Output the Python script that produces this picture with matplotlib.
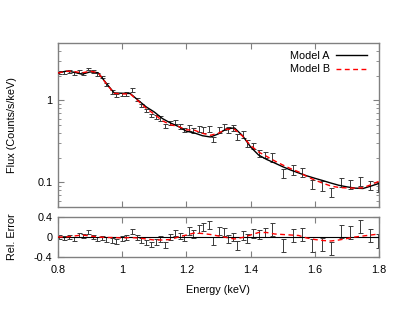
import numpy as np
import matplotlib
matplotlib.use("Agg")
import matplotlib.pyplot as plt
from matplotlib.ticker import FixedLocator, NullFormatter, LogLocator

plt.rcParams['font.family'] = ['Liberation Sans', 'DejaVu Sans']

# Model grid
model_E = [0.800, 0.825, 0.850, 0.875, 0.900, 0.925, 0.950, 0.975, 1.000, 1.025,
           1.050, 1.075, 1.100, 1.125, 1.150, 1.175, 1.200, 1.225, 1.250, 1.275,
           1.300, 1.325, 1.350, 1.375, 1.400, 1.425, 1.450, 1.475, 1.500, 1.525,
           1.550, 1.575, 1.600, 1.625, 1.650, 1.675, 1.700, 1.725, 1.750, 1.775, 1.800]
model_A = [2.15, 2.27, 2.20, 2.08, 2.22, 2.17, 1.62, 1.23, 1.22, 1.21,
           1.00, 0.83, 0.72, 0.60, 0.53, 0.48, 0.42, 0.40, 0.37, 0.357,
           0.39, 0.45, 0.46, 0.37, 0.27, 0.215, 0.19, 0.172, 0.155, 0.141,
           0.130, 0.120, 0.112, 0.105, 0.098, 0.092, 0.088, 0.085, 0.084, 0.090, 0.097]
# Model B relative to model A (B/A - 1)
model_B_rel = [0.0, 0.0, 0.02, 0.04, 0.02, 0.0, -0.01, -0.01, -0.02, -0.01,
               -0.02, -0.04, -0.06, -0.06, -0.05, 0.0, 0.04, 0.08, 0.07, 0.05,
               0.02, -0.01, -0.04, -0.01, 0.04, 0.09, 0.09, 0.06, 0.05, 0.04,
               0.03, -0.02, -0.05, -0.07, -0.08, -0.06, -0.03, 0.0, 0.02, 0.04, 0.06]

# Data points
data_E = [0.803, 0.819, 0.834, 0.850, 0.865, 0.879, 0.895, 0.909, 0.923, 0.937,
          0.951, 0.967, 0.981, 0.998, 1.013, 1.029, 1.045, 1.059, 1.074, 1.090,
          1.104, 1.118, 1.133, 1.149, 1.164, 1.179, 1.193, 1.209, 1.222, 1.238,
          1.253, 1.269, 1.284, 1.300, 1.316, 1.331, 1.345, 1.359, 1.375, 1.390,
          1.406, 1.425, 1.445, 1.467, 1.501, 1.531, 1.560, 1.590, 1.621, 1.650,
          1.683, 1.711, 1.741, 1.772, 1.797]
data_flux = [2.16, 2.20, 2.25, 2.13, 2.24, 2.15, 2.41, 2.23, 2.09, 1.93,
             1.56, 1.27, 1.14, 1.18, 1.20, 1.33, 1.03, 0.87, 0.75, 0.65,
             0.63, 0.60, 0.49, 0.53, 0.54, 0.48, 0.435, 0.465, 0.43, 0.45,
             0.44, 0.45, 0.335, 0.44, 0.47, 0.44, 0.46, 0.36, 0.385, 0.30,
             0.28, 0.226, 0.215, 0.204, 0.130, 0.142, 0.132, 0.095, 0.091, 0.076,
             0.101, 0.095, 0.103, 0.092, 0.089]
data_resid = [0.0, -0.02, 0.0, -0.03, 0.05, 0.03, 0.10, 0.0, -0.04, -0.01,
              -0.04, -0.07, -0.08, -0.03, -0.01, 0.12, -0.01, -0.06, -0.10, -0.15,
              -0.10, -0.04, -0.15, 0.0, 0.08, 0.03, -0.01, 0.12, 0.07, 0.17,
              0.20, 0.25, -0.08, 0.12, 0.10, -0.03, 0.0, -0.16, 0.04, -0.03,
              0.07, 0.05, 0.10, 0.15, -0.16, 0.03, 0.05, -0.17, -0.14, -0.22,
              0.11, 0.10, 0.22, 0.03, -0.08]
data_relerr = [0.04, 0.04, 0.04, 0.04, 0.04, 0.04, 0.04, 0.04, 0.04, 0.04,
               0.05, 0.05, 0.05, 0.05, 0.05, 0.05, 0.05, 0.05, 0.05, 0.05,
               0.06, 0.06, 0.06, 0.06, 0.06, 0.06, 0.06, 0.08, 0.08, 0.08,
               0.08, 0.08, 0.08, 0.08, 0.08, 0.08, 0.08, 0.09, 0.09, 0.09,
               0.09, 0.09, 0.09, 0.13, 0.13, 0.13, 0.13, 0.13, 0.13, 0.13,
               0.13, 0.13, 0.13, 0.13, 0.14]

x_ticks = [0.8, 1.0, 1.2, 1.4, 1.6, 1.8]
x_ticklabels = ['0.8', '1', '1.2', '1.4', '1.6', '1.8']

mE = np.array(model_E)
mA = np.array(model_A)
mB = mA * (1 + np.array(model_B_rel))
dE = np.array(data_E)
dF = np.array(data_flux)
dR = np.array(data_resid)
dErr = np.array(data_relerr)

W, H = 394, 315
fig = plt.figure(figsize=(W / 100, H / 100), dpi=100)
ax1 = fig.add_axes([58 / W, 1 - 207 / H, (379 - 58) / W, (207 - 43) / H])
ax2 = fig.add_axes([58 / W, 1 - 257 / H, (379 - 58) / W, (257 - 217) / H])

spine_col = '#808080'
fs = 7.8
ebc = '#3a3a3a'

ax1.errorbar(dE, dF, yerr=dF * dErr, fmt='none', ecolor=ebc, elinewidth=0.7,
             capsize=1.8, capthick=0.7, zorder=2)
ax1.plot(mE, mA, color='black', lw=1.0, label='Model A', zorder=3)
ax1.plot(mE, mB, color='red', lw=1.0, dashes=(3.5, 2.5), label='Model B', zorder=4)
ax1.set_yscale('log')
ax1.set_xlim(0.8, 1.8)
ax1.set_ylim(0.05, 5)
ax1.yaxis.set_major_locator(FixedLocator([0.1, 1]))
ax1.set_yticklabels(['0.1', '1'])
ax1.yaxis.set_minor_locator(LogLocator(base=10, subs=np.arange(2, 10)))
ax1.yaxis.set_minor_formatter(NullFormatter())
ax1.set_xticks(x_ticks)
ax1.set_xticklabels([])

ax2.errorbar(dE, dR, yerr=dErr, fmt='none', ecolor=ebc, elinewidth=0.7,
             capsize=1.8, capthick=0.7, zorder=2)
ax2.axhline(0, color='black', lw=0.8, zorder=3)
ax2.plot(mE, np.array(model_B_rel), color='red', lw=1.0, dashes=(3.5, 2.5), zorder=4)
ax2.set_xlim(0.8, 1.8)
ax2.set_ylim(-0.4, 0.4)
ax2.set_yticks([-0.4, 0, 0.4])
ax2.set_yticklabels(['-0.4', '0', '0.4'])
ax2.set_xticks(x_ticks)
ax2.set_xticklabels(x_ticklabels)

for ax in (ax1, ax2):
    for s in ax.spines.values():
        s.set_color(spine_col)
        s.set_linewidth(1.0)
    ax.tick_params(which='both', direction='in', top=True, right=True,
                   color=spine_col, labelsize=fs, labelcolor='black', pad=4)
    ax.tick_params(which='major', length=4, width=0.8)
    ax.tick_params(which='minor', length=2, width=0.6)
ax2.tick_params(axis='x', pad=6)

leg = ax1.legend(loc='upper right', frameon=False, fontsize=fs, markerfirst=False,
                 handlelength=2.8, handletextpad=0.6, labelspacing=0.35,
                 borderaxespad=0.3, bbox_to_anchor=(0.985, 1.0))

fig.text(12 / W, 1 - 125 / H, 'Flux (Counts/s/keV)', rotation=90, ha='center',
         va='center', fontsize=fs)
fig.text(12 / W, 1 - 237 / H, 'Rel. Error', rotation=90, ha='center',
         va='center', fontsize=fs)
fig.text(218 / W, 1 - 290 / H, 'Energy (keV)', ha='center', va='center', fontsize=fs)

fig.savefig('out.png', dpi=100)
